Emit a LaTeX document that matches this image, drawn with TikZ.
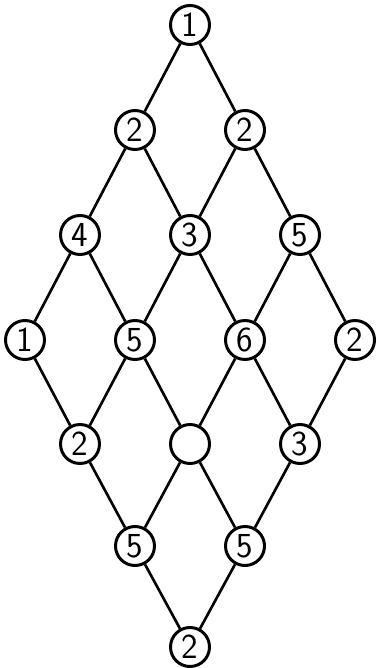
\documentclass[tikz,border=0pt]{standalone}
\usepackage{tikz}
\tikzset{
  cell/.style={
    circle,
    draw=black,
    line width=1.7pt,
    minimum size=0.78cm,
    inner sep=0pt,
    font=\sffamily\fontsize{20}{20}\selectfont
  },
  link/.style={
    line width=1.5pt
  }
}
\begin{document}
\begin{tikzpicture}[x=0.02cm, y=-0.02cm]
    \useasboundingbox (0,0) rectangle (376,668);
    % rows of the lattice, top to bottom
    \node[cell] (a1) at (190,25) {1};
    \node[cell] (b1) at (135,130) {2};
    \node[cell] (b2) at (245,130) {2};
    \node[cell] (c1) at (80,235) {4};
    \node[cell] (c2) at (190,235) {3};
    \node[cell] (c3) at (300,235) {5};
    \node[cell] (d1) at (25,340) {1};
    \node[cell] (d2) at (135,340) {5};
    \node[cell] (d3) at (245,340) {6};
    \node[cell] (d4) at (355,340) {2};
    \node[cell] (e1) at (80,444) {2};
    \node[cell] (e2) at (190,444) {};
    \node[cell] (e3) at (300,444) {3};
    \node[cell] (f1) at (135,546) {5};
    \node[cell] (f2) at (245,546) {5};
    \node[cell] (g1) at (190,647) {2};

    \draw[link] (a1) -- (b1);
    \draw[link] (a1) -- (b2);
    \draw[link] (b1) -- (c1);
    \draw[link] (b1) -- (c2);
    \draw[link] (b2) -- (c2);
    \draw[link] (b2) -- (c3);
    \draw[link] (c1) -- (d1);
    \draw[link] (c1) -- (d2);
    \draw[link] (c2) -- (d2);
    \draw[link] (c2) -- (d3);
    \draw[link] (c3) -- (d3);
    \draw[link] (c3) -- (d4);
    \draw[link] (d1) -- (e1);
    \draw[link] (d2) -- (e1);
    \draw[link] (d2) -- (e2);
    \draw[link] (d3) -- (e2);
    \draw[link] (d3) -- (e3);
    \draw[link] (d4) -- (e3);
    \draw[link] (e1) -- (f1);
    \draw[link] (e2) -- (f1);
    \draw[link] (e2) -- (f2);
    \draw[link] (e3) -- (f2);
    \draw[link] (f1) -- (g1);
    \draw[link] (f2) -- (g1);
\end{tikzpicture}
\end{document}
